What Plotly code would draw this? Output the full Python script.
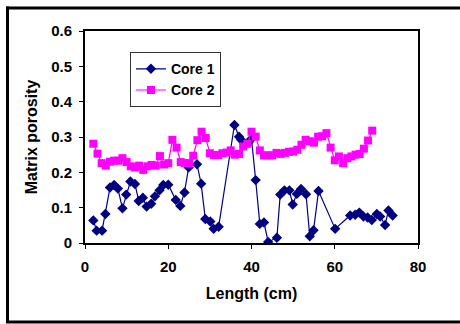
import plotly.graph_objects as go

core1_x = [2.0, 2.8, 4.1, 4.9, 6.0, 7.0, 7.9, 9.0, 9.9, 10.9, 12.0, 12.9, 13.9, 14.8, 15.9,
           16.8, 17.9, 18.8, 20.0, 21.8, 22.9, 23.9, 24.9, 26.9, 27.9, 28.9, 30.1, 30.9, 32.1,
           35.9, 37.0, 37.5, 38.3, 39.3, 40.0, 41.0, 42.0, 43.0, 44.0, 46.1, 46.9, 47.9, 49.1,
           49.9, 50.9, 51.9, 53.1, 54.0, 54.9, 56.1, 60.1, 63.7, 64.9, 65.9, 66.9, 67.9, 68.9,
           70.1, 70.9, 72.1, 72.9, 73.9]
core1_y = [0.064, 0.035, 0.035, 0.082, 0.157, 0.164, 0.154, 0.098, 0.137, 0.174, 0.167, 0.119,
           0.128, 0.103, 0.111, 0.132, 0.149, 0.164, 0.165, 0.122, 0.105, 0.143, 0.214, 0.223,
           0.168, 0.068, 0.061, 0.040, 0.046, 0.334, 0.301, 0.292, 0.280, 0.285, 0.295, 0.178,
           0.054, 0.058, 0.003, 0.015, 0.137, 0.149, 0.149, 0.109, 0.139, 0.153, 0.138, 0.019,
           0.036, 0.147, 0.040, 0.078, 0.080, 0.086, 0.075, 0.072, 0.065, 0.082, 0.075, 0.051,
           0.092, 0.078]

core2_x = [2, 3, 4, 5, 6, 7, 8, 9, 10, 11, 12, 13, 14, 15, 16, 17, 18, 19, 20, 21, 22, 23, 24,
           25, 26, 27, 28, 29, 30, 31, 32, 33, 34, 35, 36, 37, 38, 39, 40, 41, 42, 43, 44, 45,
           46, 47, 48, 49, 50, 51, 52, 53, 54, 55, 56, 57, 58, 59, 60, 61, 62, 63, 64, 65, 66,
           67, 68, 69]
core2_y = [0.281, 0.253, 0.226, 0.219, 0.230, 0.233, 0.233, 0.240, 0.229, 0.217, 0.214, 0.219,
           0.207, 0.217, 0.221, 0.219, 0.246, 0.222, 0.226, 0.292, 0.270, 0.229, 0.226, 0.226,
           0.247, 0.291, 0.315, 0.297, 0.254, 0.249, 0.249, 0.254, 0.256, 0.262, 0.250, 0.252,
           0.273, 0.281, 0.315, 0.301, 0.262, 0.248, 0.248, 0.248, 0.255, 0.252, 0.255, 0.258,
           0.259, 0.264, 0.278, 0.292, 0.288, 0.284, 0.301, 0.302, 0.311, 0.270, 0.234, 0.245,
           0.226, 0.240, 0.245, 0.250, 0.252, 0.267, 0.290, 0.318]

x_ticks = [0, 20, 40, 60, 80]
y_ticks = [0, 0.1, 0.2, 0.3, 0.4, 0.5, 0.6]
y_tick_labels = ["0", "0.1", "0.2", "0.3", "0.4", "0.5", "0.6"]

FONT = "Liberation Sans, Arial, sans-serif"

fig = go.Figure()
fig.add_trace(go.Scatter(
    x=core1_x, y=core1_y, name="Core 1", mode="lines+markers",
    line=dict(color="#000080", width=1.2),
    marker=dict(symbol="diamond", size=8, color="#000080"),
))
fig.add_trace(go.Scatter(
    x=core2_x, y=core2_y, name="Core 2", mode="lines+markers",
    line=dict(color="#FF00FF", width=1.2),
    marker=dict(symbol="square", size=8, color="#FF00FF"),
))

PL, PT, PW, PH = 85, 31, 333, 212
def px(x):
    return (x - PL) / PW
def py(y):
    return (PT + PH - y) / PH

frame = dict(color="black", width=3)
shapes = [
    dict(type="line", xref="paper", yref="paper", x0=px(6), x1=px(462), y0=py(8), y1=py(8), line=frame),
    dict(type="line", xref="paper", yref="paper", x0=px(6), x1=px(462), y0=py(322), y1=py(322), line=frame),
    dict(type="line", xref="paper", yref="paper", x0=px(7.5), x1=px(7.5), y0=py(6.5), y1=py(323), line=frame),
]

fig.update_layout(
    width=460, height=324,
    margin=dict(l=PL, r=460 - PL - PW, t=PT, b=324 - PT - PH),
    paper_bgcolor="white", plot_bgcolor="white",
    font=dict(family=FONT, color="black"),
    showlegend=True,
    legend=dict(
        x=0.135, y=0.90, xanchor="left", yanchor="top",
        bgcolor="white", bordercolor="#333333", borderwidth=1,
        font=dict(family=FONT, size=14, color="black", weight="bold"),
        tracegroupgap=2,
    ),
    xaxis=dict(
        range=[0, 80], tickvals=x_ticks, ticks="outside", ticklen=4, tickwidth=1,
        tickcolor="black", showgrid=False, zeroline=False,
        showline=True, linecolor="black", linewidth=2, mirror=True,
        ticklabelstandoff=5,
        tickfont=dict(family=FONT, size=15, color="black", weight="bold"),
        title=dict(text="Length (cm)", standoff=14,
                   font=dict(family=FONT, size=16, color="black", weight="bold")),
        automargin=False,
    ),
    yaxis=dict(
        range=[0, 0.6], tickvals=y_ticks, ticktext=y_tick_labels, ticks="outside",
        ticklen=4, tickwidth=1, tickcolor="black", showgrid=False, zeroline=False,
        showline=True, linecolor="black", linewidth=2, mirror=True,
        ticklabelstandoff=4,
        tickfont=dict(family=FONT, size=15, color="black", weight="bold"),
        title=dict(text="Matrix porosity", standoff=10,
                   font=dict(family=FONT, size=16, color="black", weight="bold")),
        automargin=False,
    ),
    shapes=shapes,
)

fig.write_html("out.html", config={"displayModeBar": False},
               post_script="document.body.style.margin='0px';")
